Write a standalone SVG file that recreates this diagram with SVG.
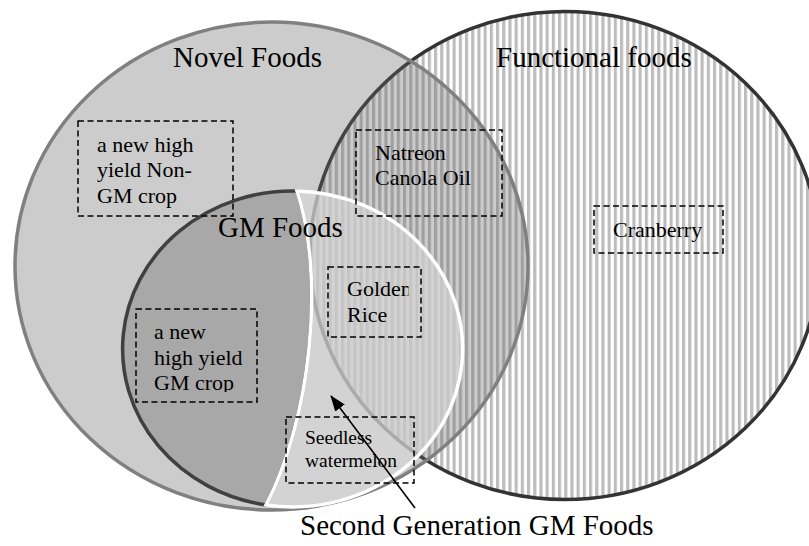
<svg xmlns="http://www.w3.org/2000/svg" width="809" height="546" viewBox="0 0 809 546">
<style>
text{font-family:"Liberation Serif","Times New Roman",serif;fill:#000}
.lbl{font-size:29px}
.box{fill:none;stroke:#000;stroke-width:1.5;stroke-dasharray:6 3.5}
.bt{font-size:22px}
</style>
<defs>
<pattern id="stripes" patternUnits="userSpaceOnUse" width="6.2" height="10">
<rect width="6.2" height="10" fill="#fff"/>
<rect x="0" width="3.1" height="10" fill="#bcbcbc"/>
</pattern>
<clipPath id="clipGolden"><rect x="330" y="270" width="78.5" height="60"/></clipPath>
<clipPath id="clipGMcrop"><rect x="140" y="312" width="115" height="80"/></clipPath>
<marker id="arrowhead" viewBox="0 0 16 12" refX="15" refY="6" markerWidth="16" markerHeight="12" markerUnits="userSpaceOnUse" orient="auto">
<path d="M0,0 L16,6 L0,12 Z" fill="#000"/>
</marker>
</defs>

<g id="functional-foods">
<ellipse cx="565" cy="255.5" rx="255" ry="244" fill="url(#stripes)" stroke="#333" stroke-width="3.5"/>
</g>
<g id="novel-foods">
<ellipse cx="271.5" cy="266" rx="256.5" ry="244" fill="#666" fill-opacity="0.333" stroke="#808080" stroke-width="3.5"/>
</g>
<g id="gm-foods">
<path d="M297,191 A170,158 0 0 0 266,505 C310,420 326,280 297,191 Z" fill="#a8a8a8" stroke="#404040" stroke-width="3.5"/>
</g>
<g id="second-generation">
<path d="M297,191 A170,158 0 1 1 266,505 C310,420 326,280 297,191 Z" fill="#d6d6d6" fill-opacity="0.7" stroke="#fff" stroke-width="3.5"/>
</g>

<g id="labels">
<text class="lbl" x="173" y="67">Novel Foods</text>
<text class="lbl" x="496" y="67">Functional foods</text>
<text class="lbl" x="218" y="237">GM Foods</text>
<text class="lbl" x="300" y="535">Second Generation GM Foods</text>
</g>

<g id="box-nongm-crop">
<rect class="box" x="78" y="121" width="155" height="95"/>
<text class="bt" x="97" y="152">a new high</text>
<text class="bt" x="97" y="177">yield Non-</text>
<text class="bt" x="97" y="203">GM crop</text>
</g>
<g id="box-natreon">
<rect class="box" x="356" y="130" width="146" height="86"/>
<text class="bt" x="375" y="160">Natreon</text>
<text class="bt" x="375" y="185">Canola Oil</text>
</g>
<g id="box-cranberry">
<rect class="box" x="594" y="206" width="129" height="47"/>
<text class="bt" x="613" y="237">Cranberry</text>
</g>
<g id="box-golden-rice">
<rect class="box" x="328" y="267" width="93" height="70"/>
<g clip-path="url(#clipGolden)">
<text class="bt" x="347" y="296">Golden</text>
<text class="bt" x="347" y="322">Rice</text>
</g>
</g>
<g id="box-gm-crop">
<rect class="box" x="136" y="309" width="121" height="93"/>
<g clip-path="url(#clipGMcrop)">
<text class="bt" x="154" y="339">a new</text>
<text class="bt" x="154" y="365">high yield</text>
<text class="bt" x="154" y="390">GM crop</text>
</g>
</g>
<g id="box-seedless">
<rect class="box" x="286" y="417" width="128" height="66"/>
<text x="305" y="444" font-size="19.5">Seedless</text>
<text x="305" y="467" font-size="19.5">watermelon</text>
</g>

<g id="connectors">
<line x1="415" y1="508" x2="331" y2="396" stroke="#000" stroke-width="1.6" marker-end="url(#arrowhead)"/>
</g>
</svg>
